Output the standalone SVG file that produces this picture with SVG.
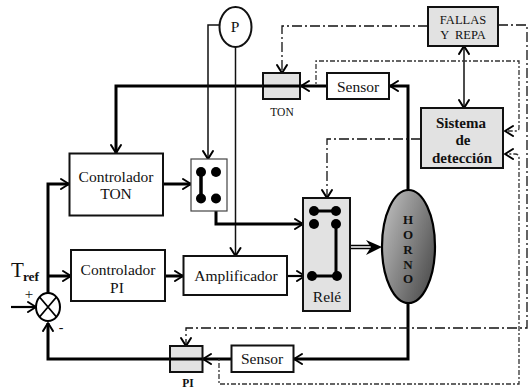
<svg xmlns="http://www.w3.org/2000/svg" width="528" height="388" viewBox="0 0 528 388">
<style>
text{font-family:"Liberation Serif","Times New Roman",serif;fill:#111;text-anchor:middle}
.t13{font-size:15.500px}
.b{font-weight:bold;font-size:15px}
.box{fill:#fff;stroke:#111;stroke-width:2}
.grey{fill:#e2e2e2;stroke:#111;stroke-width:2}
.thin{fill:none;stroke:#111;stroke-width:1.500}
.mid{fill:none;stroke:#000;stroke-width:2.200}
.thick{fill:none;stroke:#000;stroke-width:3}
.dd{fill:none;stroke:#111;stroke-width:1.300;stroke-dasharray:10 3 2 3}
.dot{fill:none;stroke:#333;stroke-width:1.300;stroke-dasharray:2 2 5 2}
.d{fill:#000}
.ah{fill:none;stroke:#000;stroke-width:2;stroke-linecap:round;stroke-linejoin:round}
</style>
<defs>
<linearGradient id="hg" x1="0" y1="0.15" x2="1" y2="0.85"><stop offset="0" stop-color="#bdbdbd"/><stop offset="1" stop-color="#4a4a4a"/></linearGradient>
<marker id="a" markerUnits="userSpaceOnUse" markerWidth="14" markerHeight="14" refX="11" refY="7" orient="auto"><path d="M3 2L11 7L3 12" class="ah"/></marker>
<marker id="s" markerUnits="userSpaceOnUse" markerWidth="14" markerHeight="14" refX="3" refY="7" orient="auto"><path d="M11 2L3 7L11 12" class="ah"/></marker>
</defs>
<g id="connectors">
<path class="thick" d="M408 190V86H390" marker-end="url(#a)"/>
<path class="thick" d="M327 86H301" marker-end="url(#a)"/>
<path class="thick" d="M300 86H116V153" marker-end="url(#a)"/>
<path class="thin" d="M219 25H208V159" marker-end="url(#a)"/>
<path class="thin" d="M235.500 47V256" marker-end="url(#a)"/>
<path class="thick" d="M163 184H191" marker-end="url(#a)"/>
<path class="thick" d="M48 293V184H69" marker-end="url(#a)"/>
<path class="thick" d="M48 276H71" marker-end="url(#a)"/>
<path class="thick" d="M165 276H183" marker-end="url(#a)"/>
<path class="mid" d="M11 307H36" marker-end="url(#a)"/>
<path class="thick" d="M170 359H48V323" marker-end="url(#a)"/>
<path class="thick" d="M408 303V359H294" marker-end="url(#a)"/>
<path class="thick" d="M231 359H203" marker-end="url(#a)"/>
<path class="thick" d="M216 198V224H303" marker-end="url(#a)"/>
<path class="mid" d="M287 276H305" marker-end="url(#a)"/>
<path d="M336 247H372" fill="none" stroke="#000" stroke-width="4.500"/>
<path d="M336 247H372" fill="none" stroke="#fff" stroke-width="1.400"/>
<path d="M366 240L382 247L366 255L371 247Z" fill="#000"/>
<path class="thin" d="M464 46V108" marker-start="url(#s)" marker-end="url(#a)"/>
<path class="dd" d="M428 26H282V73" marker-end="url(#a)"/>
<path class="dd" d="M498 25H527V328H186V346" marker-end="url(#a)"/>
<path class="dd" d="M421 139H327V198" marker-end="url(#a)"/>
<path class="dot" d="M316 84V61H519V128Q519 131 516 131H505" marker-end="url(#a)"/>
<path class="dot" d="M219 359V384H519V158Q519 154 515 154H505" marker-end="url(#a)"/>
</g>
<g id="controlador-ton"><rect class="box" x="69.500" y="153.500" width="93.500" height="62"/><text class="t13" x="116" y="182">Controlador</text><text class="t13" x="116" y="199">TON</text></g>
<g id="controlador-pi"><rect class="box" x="71" y="250" width="94" height="51"/><text class="t13" x="118" y="275">Controlador</text><text class="t13" x="117" y="293">PI</text></g>
<g id="amplificador"><rect class="box" x="183.500" y="256" width="103.500" height="39"/><text class="t13" x="236" y="281">Amplificador</text></g>
<g id="p"><ellipse cx="235.500" cy="27" rx="16" ry="20" fill="#fff" stroke="#111" stroke-width="2"/><text class="t13" x="235" y="32">P</text></g>
<g id="switch"><rect x="191" y="159" width="36" height="52" fill="#fff" stroke="#444" stroke-width="1.200"/>
<path d="M201 172V198" stroke="#000" stroke-width="3.500"/>
<circle class="d" cx="201" cy="172" r="5"/><circle class="d" cx="216" cy="172" r="5"/><circle class="d" cx="201" cy="198.500" r="5"/><circle class="d" cx="216" cy="198.500" r="5"/></g>
<g id="rele"><rect class="grey" x="303" y="198" width="47" height="113"/>
<path d="M314 211H336M336 224V276H312" fill="none" stroke="#000" stroke-width="3"/>
<circle class="d" cx="314" cy="211" r="5"/><circle class="d" cx="336" cy="211" r="5"/><circle class="d" cx="314" cy="224" r="5"/><circle class="d" cx="336" cy="224" r="5"/><circle class="d" cx="312" cy="276" r="5"/><circle class="d" cx="337" cy="276" r="5"/>
<text class="t13" x="327" y="302">Relé</text></g>
<g id="horno"><ellipse cx="408.500" cy="246.500" rx="26.500" ry="56.500" fill="url(#hg)" stroke="#000" stroke-width="2.200"/>
<text x="408" y="224" font-size="13" font-weight="bold">H</text><text x="408" y="238.500" font-size="13" font-weight="bold">O</text><text x="408" y="254" font-size="13" font-weight="bold">R</text><text x="408" y="269" font-size="13" font-weight="bold">N</text><text x="408" y="283" font-size="13" font-weight="bold">O</text></g>
<g id="ton"><rect class="grey" x="263" y="73" width="37" height="26" stroke-width="1.500"/><path d="M263 86H300" stroke="#000" stroke-width="3"/><text x="282" y="116" font-size="11.500">TON</text></g>
<g id="pi"><rect class="grey" x="170" y="346" width="32.500" height="26" stroke-width="1.500"/><path d="M170 359H202" stroke="#000" stroke-width="3"/><text x="188" y="387" font-size="11.500" font-weight="bold">PI</text></g>
<g id="sensor-top"><rect class="box" x="327" y="73" width="62" height="26"/><text class="t13" x="358" y="92">Sensor</text></g>
<g id="sensor-bottom"><rect class="box" x="231.500" y="345.500" width="62" height="26.500"/><text class="t13" x="262" y="364">Sensor</text></g>
<g id="fallas"><rect class="grey" x="428" y="7" width="70" height="39"/><text x="463" y="24" font-size="12.500">FALLAS</text><text x="463" y="39" font-size="12.500" xml:space="preserve">Y  REPA</text></g>
<g id="sistema"><rect class="grey" x="421" y="108" width="82" height="60"/><text class="b" x="461" y="128">Sistema</text><text class="b" x="463" y="145">de</text><text class="b" x="462" y="163">detección</text></g>
<g id="sum"><ellipse cx="48" cy="307" rx="12" ry="14" fill="#fff" stroke="#000" stroke-width="2"/><path d="M39.500 297L56.500 317M56.500 297L39.500 317" stroke="#000" stroke-width="1.800"/></g>
<g id="labels"><text x="17.500" y="277" font-size="21">T</text><text x="31" y="281" font-size="13.500" font-weight="bold">ref</text><text x="29" y="299" font-size="15">+</text><text x="61" y="332" font-size="14">-</text></g>
</svg>
